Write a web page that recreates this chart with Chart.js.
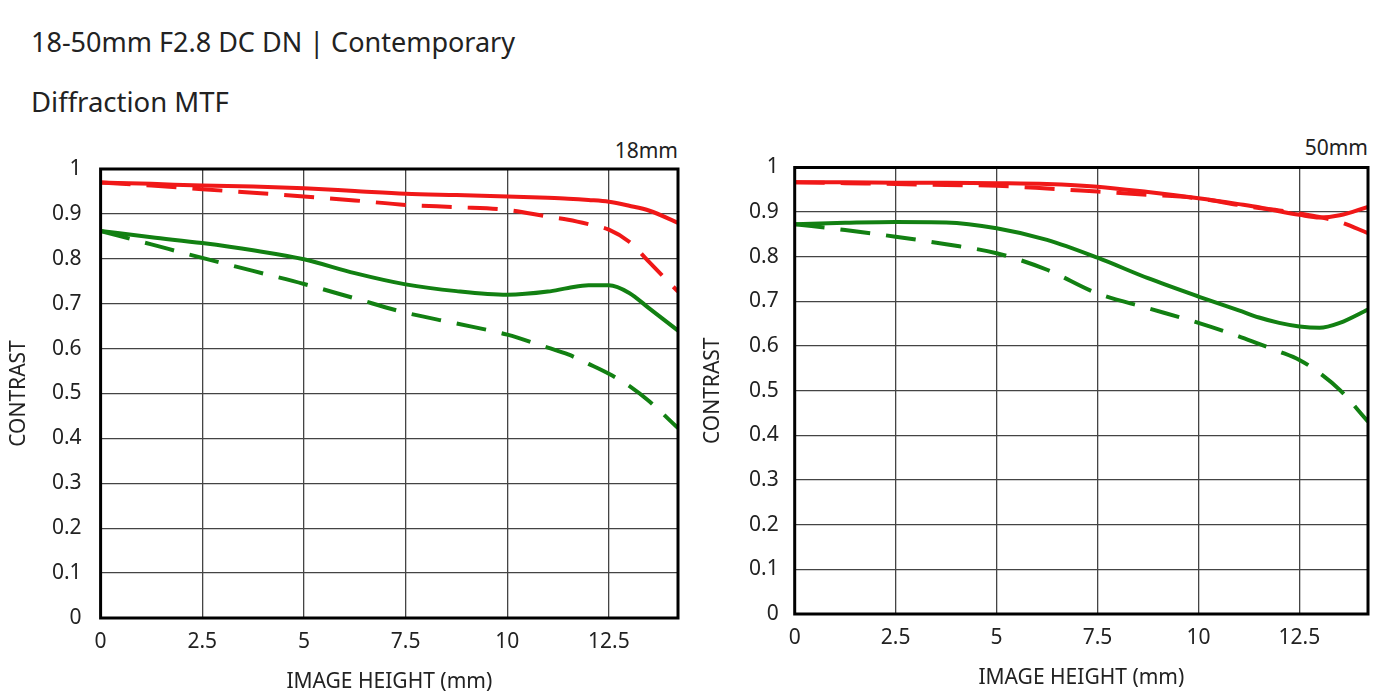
<!DOCTYPE html>
<html>
<head>
<meta charset="utf-8">
<script src="https://cdn.jsdelivr.net/npm/chart.js@4.4.1/dist/chart.umd.min.js"></script>
<style>
  html, body { margin: 0; padding: 0; background: #fff; }
  body { width: 1400px; height: 700px; position: relative; overflow: hidden; font-family: "Noto Sans", Roboto, sans-serif; color: #222; }
  .t { position: absolute; white-space: nowrap; line-height: 1; }
  #title1 { left: 31px; top: 28px; font-size: 27px; }
  #title2 { left: 31px; top: 88px; font-size: 27.5px; }
  #lab18 { right: 722px; top: 140px; font-size: 21px; }
  #lab50 { right: 32px; top: 137px; font-size: 21px; }
  #c1wrap { position: absolute; left: 0; top: 130px; width: 700px; height: 570px; }
  #c2wrap { position: absolute; left: 700px; top: 130px; width: 700px; height: 566px; }
</style>
</head>
<body>
<div class="t" id="title1">18-50mm F2.8 DC DN | Contemporary</div>
<div class="t" id="title2">Diffraction MTF</div>
<div class="t" id="lab18">18mm</div>
<div class="t" id="lab50">50mm</div>
<div id="c1wrap"><canvas id="c1"></canvas></div>
<div id="c2wrap"><canvas id="c2"></canvas></div>
<script>
// Image height positions (mm)
const imageHeight = [0, 1.25, 2.5, 3.75, 5, 6.25, 7.5, 8.75, 10, 11, 11.5, 12, 12.5, 13, 13.5, 14.2];
const xTickValues = [0, 2.5, 5, 7.5, 10, 12.5];
const yTickValues = [0, 0.1, 0.2, 0.3, 0.4, 0.5, 0.6, 0.7, 0.8, 0.9, 1];

// 18mm
const red18Solid  = [0.970, 0.967, 0.963, 0.961, 0.957, 0.951, 0.945, 0.942, 0.939, 0.936, 0.934, 0.931, 0.927, 0.918, 0.907, 0.880];
const red18Dash   = [0.970, 0.963, 0.955, 0.947, 0.939, 0.930, 0.920, 0.915, 0.909, 0.894, 0.887, 0.877, 0.865, 0.838, 0.792, 0.727];
const green18Solid= [0.862, 0.848, 0.835, 0.819, 0.799, 0.768, 0.743, 0.728, 0.720, 0.727, 0.735, 0.741, 0.741, 0.724, 0.689, 0.640];
const green18Dash = [0.862, 0.832, 0.802, 0.773, 0.744, 0.712, 0.680, 0.656, 0.631, 0.602, 0.587, 0.566, 0.544, 0.517, 0.482, 0.423];

// 50mm
const red50Solid  = [0.967, 0.967, 0.966, 0.966, 0.965, 0.963, 0.957, 0.945, 0.931, 0.918, 0.911, 0.902, 0.894, 0.888, 0.893, 0.912];
const red50Dash   = [0.967, 0.965, 0.963, 0.961, 0.959, 0.953, 0.946, 0.939, 0.931, 0.916, 0.909, 0.904, 0.897, 0.889, 0.878, 0.853];
const green50Solid= [0.873, 0.876, 0.878, 0.877, 0.864, 0.838, 0.798, 0.752, 0.711, 0.680, 0.664, 0.652, 0.644, 0.641, 0.652, 0.682];
const green50Dash = [0.873, 0.860, 0.845, 0.828, 0.808, 0.771, 0.718, 0.685, 0.652, 0.622, 0.605, 0.588, 0.569, 0.540, 0.502, 0.431];

const RED = 'rgb(240,24,24)';
const GREEN = 'rgb(18,128,18)';
const FONT = '"Noto Sans", Roboto, sans-serif';

function pts(ys) { return ys.map((y, i) => ({ x: imageHeight[i], y })); }
function ds(ys, color, dashed) {
  return {
    data: pts(ys), borderColor: color, borderWidth: 4, pointRadius: 0,
    borderDash: dashed ? [30, 16] : [], borderCapStyle: dashed ? 'butt' : 'round',
    cubicInterpolationMode: 'monotone', fill: false
  };
}

const framePlugin = {
  id: 'frame',
  afterDraw(chart) {
    const a = chart.chartArea, ctx = chart.ctx;
    ctx.save();
    ctx.strokeStyle = '#000';
    ctx.lineWidth = 3;
    ctx.strokeRect(a.left, a.top, a.right - a.left, a.bottom - a.top);
    ctx.restore();
  }
};

function makeChart(id, series, o) {
  return new Chart(document.getElementById(id), {
    type: 'line',
    data: { datasets: [
      ds(series[0], GREEN, true), ds(series[1], GREEN, false),
      ds(series[2], RED, true), ds(series[3], RED, false)
    ] },
    options: {
      responsive: true, maintainAspectRatio: false, animation: false,
      layout: { padding: { left: 0, right: o.right, top: o.top, bottom: 0 } },
      plugins: { legend: { display: false }, tooltip: { enabled: false } },
      scales: {
        x: {
          type: 'linear', min: 0, max: 14.2,
          afterBuildTicks(s) { s.ticks = xTickValues.map(v => ({ value: v })); },
          afterFit(s) { s.height = o.xh; },
          grid: { color: '#444', lineWidth: 1.3, drawTicks: false },
          border: { display: false },
          ticks: { padding: 11, color: '#222', font: { family: FONT, size: 21 }, callback: v => String(v), maxRotation: 0 },
          title: { display: true, text: 'IMAGE HEIGHT (mm)', color: '#222', font: { family: FONT, size: 21 }, padding: { top: 0, bottom: 5 } }
        },
        y: {
          min: 0, max: 1,
          afterBuildTicks(s) { s.ticks = yTickValues.map(v => ({ value: v })); },
          afterFit(s) { s.width = o.yw; },
          grid: { color: '#444', lineWidth: 1.3, drawTicks: false },
          border: { display: false },
          ticks: { padding: o.ypad, color: '#222', font: { family: FONT, size: 21 },
            callback: v => (v === 0 || v === 1) ? String(v) : v.toFixed(1) },
          title: { display: true, text: 'CONTRAST', color: '#222', font: { family: FONT, size: 21 }, padding: { top: o.ytp, bottom: 0 } }
        }
      }
    },
    plugins: [framePlugin]
  });
}

makeChart('c1', [green18Dash, green18Solid, red18Dash, red18Solid],
  { right: 22, top: 39, xh: 82, yw: 100.6, ypad: 19, ytp: 6 });
makeChart('c2', [green50Dash, green50Solid, red50Dash, red50Solid],
  { right: 32, top: 37.5, xh: 82, yw: 94.7, ypad: 16, ytp: 0 });
</script>
</body>
</html>
